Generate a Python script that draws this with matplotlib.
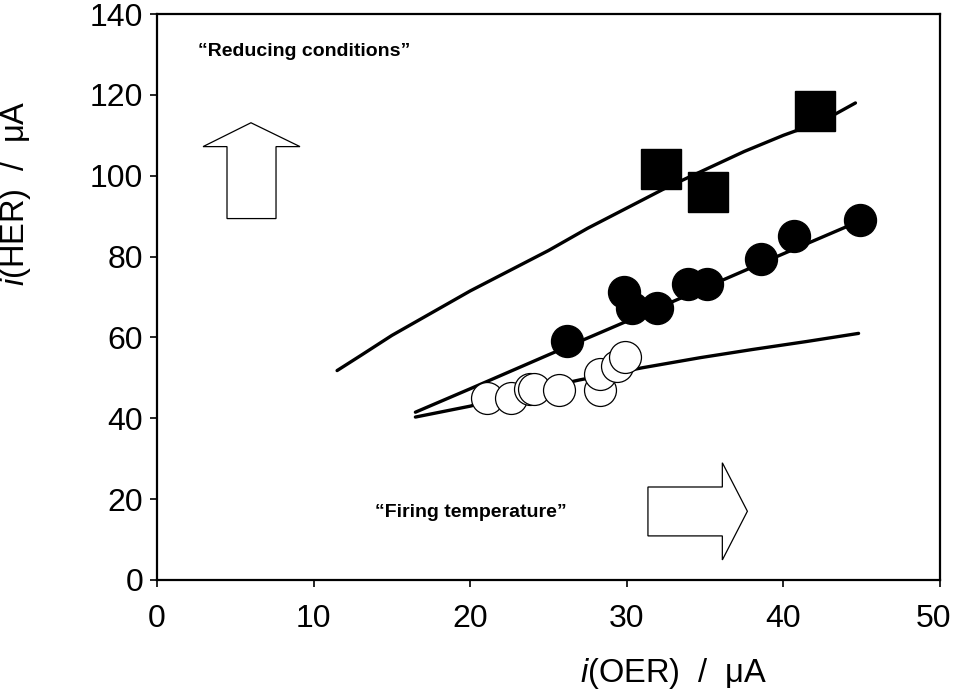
import matplotlib
matplotlib.use("Agg")
import matplotlib.pyplot as plt
import matplotlib.transforms as mtransforms
from matplotlib.patches import Polygon

plt.rcParams['font.family'] = ['Liberation Sans', 'DejaVu Sans']
plt.rcParams['mathtext.fontset'] = 'custom'
plt.rcParams['mathtext.it'] = 'Liberation Sans:italic'
plt.rcParams['mathtext.rm'] = 'Liberation Sans'

# data
squares_x = [32.2, 35.2, 42.0]
squares_y = [101.7, 96.0, 116.0]

filled_x = [26.2, 29.8, 30.3, 31.9, 33.9, 35.1, 38.6, 40.7, 44.9]
filled_y = [59.2, 71.3, 67.3, 67.3, 73.3, 73.3, 79.5, 85.1, 89.1]

open_x = [21.1, 22.6, 23.8, 24.1, 25.7, 28.3, 28.3, 29.4, 29.9]
open_y = [45.0, 45.0, 47.3, 47.3, 47.0, 47.0, 51.0, 53.0, 55.2]

upper_x = [11.5, 13, 15, 17.5, 20, 22.5, 25, 27.5, 30, 32.5, 35, 37.5, 40, 42.5, 44.6]
upper_y = [51.8, 55.5, 60.5, 66, 71.5, 76.5, 81.5, 87, 92, 97, 101.5, 106, 110, 113.5, 118]

middle_x = [16.5, 20, 25, 30, 35, 40, 45]
middle_y = [41.5, 47.3, 55.7, 64.0, 72.3, 80.7, 89.0]

lower_x = [16.5, 20, 23.5, 27, 31, 34.7, 38, 41.5, 44.8]
lower_y = [40.3, 43, 46.5, 49.5, 52.5, 55, 57, 59, 61]

# outline arrows (data coords)
up_arrow = [(4.47, 89.4), (7.6, 89.4), (7.6, 107.2), (9.13, 107.2), (6.0, 113.1),
            (2.94, 107.2), (4.47, 107.2)]
right_arrow = [(31.35, 10.9), (36.1, 10.9), (36.1, 4.95), (37.7, 17.0), (36.1, 29.0),
               (36.1, 23.0), (31.35, 23.0)]

fig = plt.figure(figsize=(9.55, 6.94), dpi=100)
ax = fig.add_axes([0.1644, 0.1643, 0.8199, 0.8155])

lw = 2.4
ax.plot(upper_x, upper_y, color='black', lw=lw, solid_capstyle='round', zorder=2)
ax.plot(middle_x, middle_y, color='black', lw=lw, solid_capstyle='round', zorder=2)
ax.plot(lower_x, lower_y, color='black', lw=lw, solid_capstyle='round', zorder=2)

ax.plot(open_x, open_y, 'o', ms=23, mfc='white', mec='black', mew=0.9, zorder=3)
ax.plot(filled_x, filled_y, 'o', ms=23, mfc='black', mec='black', zorder=3)
ax.plot(squares_x, squares_y, 's', ms=29, mfc='black', mec='black', zorder=3)

for pts in (up_arrow, right_arrow):
    ax.add_patch(Polygon(pts, closed=True, facecolor='white', edgecolor='black',
                         lw=0.9, zorder=1))

ax.text(2.6, 130.7, '\u201cReducing conditions\u201d', fontsize=14,
        fontweight='bold', va='center', ha='left')
ax.text(13.9, 16.6, '\u201cFiring temperature\u201d', fontsize=14,
        fontweight='bold', va='center', ha='left')

ax.set_xlim(0, 50)
ax.set_ylim(0, 140)
ax.set_xticks(range(0, 51, 10))
ax.set_yticks(range(0, 141, 20))

for s in ax.spines.values():
    s.set_linewidth(1.6)
ax.tick_params(axis='both', direction='out', length=5, width=1.2, labelsize=23)
ax.tick_params(axis='x', pad=12)
ax.tick_params(axis='y', pad=5)

# keep the last x tick label inside the canvas
last = ax.get_xticklabels()[-1]
last.set_transform(last.get_transform() +
                   mtransforms.ScaledTranslation(-7 / 100, 0, fig.dpi_scale_trans))

ax.set_xlabel(r'$\mathit{i}$(OER)  /  μA', fontsize=23.5)
ax.xaxis.set_label_coords(0.66, -0.135)
ax.set_ylabel(r'$\mathit{i}$(HER)  /  μA', fontsize=23.5)
ax.yaxis.set_label_coords(-0.158, 0.684)

fig.savefig('out.png', dpi=100)
